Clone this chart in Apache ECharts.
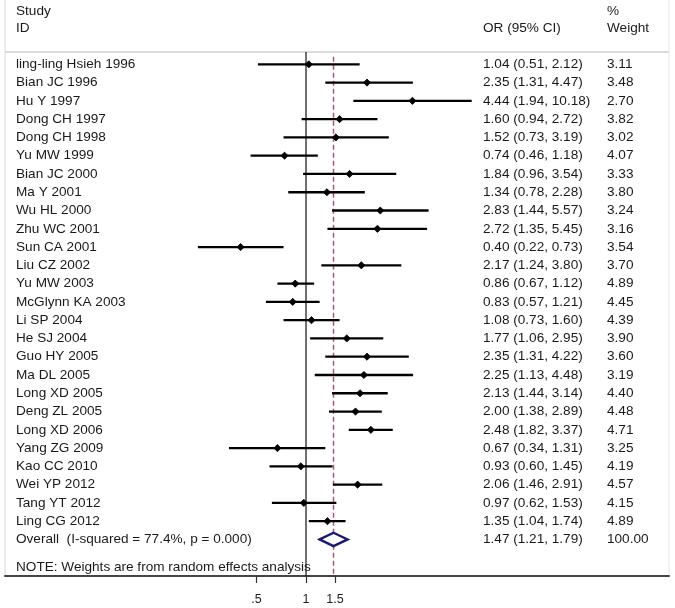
<!DOCTYPE html>
<html>
<head>
<meta charset="utf-8">
<script src="https://cdn.jsdelivr.net/npm/echarts@6/dist/echarts.min.js"></script>
<style>html,body{margin:0;padding:0;background:#fff}#c{width:675px;height:608px}</style>
</head>
<body>
<div id="c"></div>
<script>
const studies = ["ling-ling Hsieh 1996","Bian JC 1996","Hu Y 1997","Dong CH 1997","Dong CH 1998","Yu MW 1999","Bian JC 2000","Ma Y 2001","Wu HL 2000","Zhu WC 2001","Sun CA 2001","Liu CZ 2002","Yu MW 2003","McGlynn KA 2003","Li SP 2004","He SJ 2004","Guo HY 2005","Ma DL 2005","Long XD 2005","Deng ZL 2005","Long XD 2006","Yang ZG 2009","Kao CC 2010","Wei YP 2012","Tang YT 2012","Ling CG 2012"];
const orValues = [1.04,2.35,4.44,1.60,1.52,0.74,1.84,1.34,2.83,2.72,0.40,2.17,0.86,0.83,1.08,1.77,2.35,2.25,2.13,2.00,2.48,0.67,0.93,2.06,0.97,1.35];
const ciLow = [0.51,1.31,1.94,0.94,0.73,0.46,0.96,0.78,1.44,1.35,0.22,1.24,0.67,0.57,0.73,1.06,1.31,1.13,1.44,1.38,1.82,0.34,0.60,1.46,0.62,1.04];
const ciHigh = [2.12,4.47,10.18,2.72,3.19,1.18,3.54,2.28,5.57,5.45,0.73,3.80,1.12,1.21,1.60,2.95,4.22,4.48,3.14,2.89,3.37,1.31,1.45,2.91,1.53,1.74];
const weights = ["3.11","3.48","2.70","3.82","3.02","4.07","3.33","3.80","3.24","3.16","3.54","3.70","4.89","4.45","4.39","3.90","3.60","3.19","4.40","4.48","4.71","3.25","4.19","4.57","4.15","4.89"];
const overallLabel = "Overall  (I-squared = 77.4%, p = 0.000)";
const overall = {or: 1.47, lo: 1.21, hi: 1.79, weight: "100.00"};
const tickValues = [0.5, 1, 1.5];
const tickLabels = [".5", "1", "1.5"];
const noteText = "NOTE: Weights are from random effects analysis";

const FONT = "'Liberation Sans', Arial, sans-serif";
const fmt = v => v.toFixed(2);
const nRows = studies.length;
const overallRow = nRows;

const chart = echarts.init(document.getElementById('c'), null, {renderer: 'canvas'});

const ciData = studies.map((s, i) => [ciLow[i], ciHigh[i], orValues[i], i]);

const option = {
  animation: false,
  backgroundColor: '#fff',
  grid: {left: 5, right: 6, top: 0, bottom: 32},
  xAxis: {
    type: 'log', logBase: 10, min: 0.01476, max: 161.4,
    axisLine: {show: true, onZero: false, lineStyle: {color: '#444', width: 2}},
    axisTick: {show: true, customValues: tickValues, length: 7, lineStyle: {color: '#333', width: 1.2}},
    axisLabel: {show: true, customValues: tickValues, margin: 17, fontSize: 12.5, color: '#1e1e1e', fontFamily: FONT,
      formatter: v => { const k = tickValues.findIndex(t => Math.abs(t - v) < 1e-6); return k >= 0 ? tickLabels[k] : ''; }},
    splitLine: {show: false}, minorTick: {show: false}, minorSplitLine: {show: false}
  },
  yAxis: {type: 'value', inverse: true, min: -3.52, max: 28.0, show: false, splitLine: {show: false}},
  series: [
    {
      type: 'line', data: [[1, -0.673], [1, 28]], symbol: 'none',
      lineStyle: {color: '#111', width: 1.2}, z: 1
    },
    {
      type: 'line', data: [[overall.or, -0.42], [overall.or, 28]], symbol: 'none',
      lineStyle: {color: '#b4566a', width: 1.5, type: [5, 3]}, z: 1
    },
    {
      type: 'custom', data: ciData, z: 3,
      encode: {x: [0, 1, 2], y: 3},
      renderItem: (params, api) => {
        const row = api.value(3);
        const a = api.coord([api.value(0), row]);
        const b = api.coord([api.value(1), row]);
        const p = api.coord([api.value(2), row]);
        const r = 3.6;
        return {type: 'group', children: [
          {type: 'line', shape: {x1: a[0], y1: a[1], x2: b[0], y2: b[1]}, style: {stroke: '#000', lineWidth: 2.3}},
          {type: 'polygon', shape: {points: [[p[0] - r, p[1]], [p[0], p[1] - r], [p[0] + r, p[1]], [p[0], p[1] + r]]}, style: {fill: '#000', stroke: '#000', lineWidth: 0.8}}
        ]};
      }
    },
    {
      type: 'custom', data: [[overall.lo, overall.hi, overall.or, overallRow]], z: 4,
      encode: {x: [0, 1, 2], y: 3},
      renderItem: (params, api) => {
        const row = api.value(3);
        const a = api.coord([api.value(0), row]);
        const b = api.coord([api.value(1), row]);
        const p = api.coord([api.value(2), row]);
        const h = 6.7;
        return {type: 'polygon', shape: {points: [[a[0], p[1]], [p[0], p[1] - h], [b[0], p[1]], [p[0], p[1] + h]]},
          style: {fill: '#fff', stroke: '#1a1a70', lineWidth: 2.4}};
      }
    }
  ]
};
chart.setOption(option);

const yPix = i => chart.convertToPixel({yAxisIndex: 0}, i);
const textStyle = (t, x, y) => ({type: 'text', x: x, y: y, silent: true,
  style: {text: t, fill: '#1a1a1a', font: '13.6px ' + FONT, textVerticalAlign: 'middle', verticalAlign: 'middle'}});

const X_NAME = 16, X_OR = 483, X_W = 607;
const graphics = [];
// frame
graphics.push({type: 'line', silent: true, shape: {x1: 5, y1: 0, x2: 5, y2: 576}, style: {stroke: '#d8d8d8', lineWidth: 1}});
graphics.push({type: 'line', silent: true, shape: {x1: 669, y1: 0, x2: 669, y2: 576}, style: {stroke: '#e6e6e6', lineWidth: 1}});
graphics.push({type: 'line', silent: true, shape: {x1: 5, y1: 52, x2: 669, y2: 52}, style: {stroke: '#cfcfcf', lineWidth: 1.5}});
// headers
graphics.push(textStyle('Study', X_NAME, yPix(-2.88)));
graphics.push(textStyle('ID', X_NAME, yPix(-1.99)));
graphics.push(textStyle('OR (95% CI)', X_OR, yPix(-1.99)));
graphics.push(textStyle('%', X_W, yPix(-2.88)));
graphics.push(textStyle('Weight', X_W, yPix(-1.99)));
studies.forEach((s, i) => {
  const y = yPix(i);
  graphics.push(textStyle(s, X_NAME, y));
  graphics.push(textStyle(fmt(orValues[i]) + ' (' + fmt(ciLow[i]) + ', ' + fmt(ciHigh[i]) + ')', X_OR, y));
  graphics.push(textStyle(weights[i], X_W, y));
});
const yo = yPix(overallRow);
graphics.push(textStyle(overallLabel, X_NAME, yo));
graphics.push(textStyle(fmt(overall.or) + ' (' + fmt(overall.lo) + ', ' + fmt(overall.hi) + ')', X_OR, yo));
graphics.push(textStyle(overall.weight, X_W, yo));
graphics.push(textStyle(noteText, X_NAME, yPix(27.5)));
chart.setOption({graphic: graphics});
</script>
</body>
</html>
